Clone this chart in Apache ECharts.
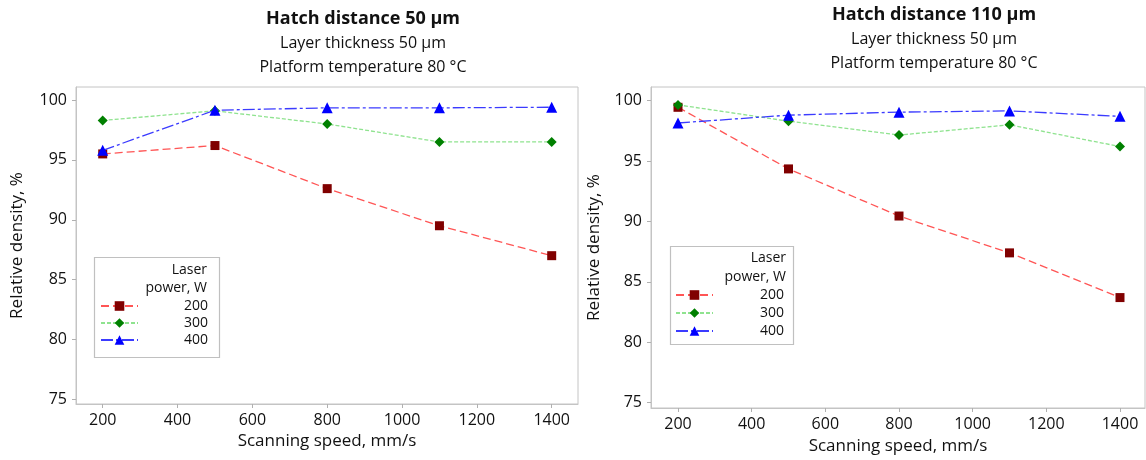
<!DOCTYPE html>
<html>
<head>
<meta charset="utf-8">
<title>Relative density vs scanning speed</title>
<script src="https://cdn.jsdelivr.net/npm/echarts@6/dist/echarts.min.js"></script>
<style>html,body{margin:0;padding:0;background:#fff;}</style>
</head>
<body>
<div id="main" style="width:1146px;height:460px;"></div>
<script>
// data
var speeds = [200, 500, 800, 1100, 1400];
var xTicks = [200, 400, 600, 800, 1000, 1200, 1400];
var yTicks = [75, 80, 85, 90, 95, 100];
var powers = ['200', '300', '400'];

// hatch distance 50 um
var h50_p200 = [95.5, 96.2, 92.6, 89.5, 87.0];
var h50_p300 = [98.3, 99.1, 98.0, 96.5, 96.5];
var h50_p400 = [95.8, 99.15, 99.35, 99.35, 99.4];

// hatch distance 110 um
var h110_p200 = [99.45, 94.35, 90.45, 87.4, 83.7];
var h110_p300 = [99.65, 98.3, 97.15, 98.0, 96.2];
var h110_p400 = [98.15, 98.8, 99.05, 99.15, 98.7];

var FONT = 'Open Sans';

function pairs(vals) {
    return speeds.map(function (s, i) { return [s, vals[i]]; });
}

var styles = {
    '200': {symbol: 'rect', size: 9, marker: '#800000', line: '#ff5555', dash: [8, 4]},
    '300': {symbol: 'diamond', size: 10, marker: '#008000', line: '#8fe38f', dash: [4, 2]},
    '400': {symbol: 'triangle', size: 11, marker: '#0000ff', line: '#3b3bff', dash: [12, 3, 3, 3]}
};

function makeSeries(name, vals, idx) {
    var st = styles[name];
    return {
        name: name,
        type: 'line',
        xAxisIndex: idx,
        yAxisIndex: idx,
        data: pairs(vals),
        symbol: st.symbol,
        symbolSize: st.size,
        showAllSymbol: true,
        itemStyle: {color: st.marker},
        lineStyle: {color: st.line, width: 1.3, type: st.dash},
        emphasis: {disabled: true},
        z: name === '400' ? 4 : (name === '300' ? 3 : 2)
    };
}

function xAx(idx, min, max, gap, nameGap) {
    return {
        type: 'value', gridIndex: idx, min: min, max: max,
        name: 'Scanning speed, mm/s', nameLocation: 'middle', nameGap: nameGap,
        nameTextStyle: {fontFamily: FONT, fontSize: 17, color: '#111'},
        axisLine: {show: true, lineStyle: {color: '#c4c4c4'}},
        axisTick: {show: true, length: 4, customValues: xTicks, lineStyle: {color: '#b0b0b0'}},
        axisLabel: {customValues: xTicks, margin: gap, fontFamily: FONT, fontSize: 16, color: '#111',
            formatter: function (v) { return String(v); }},
        splitLine: {show: false}
    };
}

function yAx(idx, min, max, nameGap) {
    return {
        type: 'value', gridIndex: idx, min: min, max: max,
        name: 'Relative density, %', nameLocation: 'middle', nameGap: nameGap,
        nameTextStyle: {fontFamily: FONT, fontSize: 17, color: '#111'},
        axisLine: {show: true, lineStyle: {color: '#c4c4c4'}},
        axisTick: {show: true, length: 4, customValues: yTicks, lineStyle: {color: '#b0b0b0'}},
        axisLabel: {customValues: yTicks, margin: 9, fontFamily: FONT, fontSize: 16, color: '#111'},
        splitLine: {show: false}
    };
}

function legendBlock(left, top, gap, textW) {
    return {
        orient: 'vertical', left: left, top: top,
        data: powers, itemWidth: 37, itemHeight: 12, itemGap: gap,
        selectedMode: false, padding: 0,
        formatter: '{r|{name}}',
        textStyle: {
            fontFamily: FONT, fontSize: 14, color: '#111', lineHeight: 14,
            rich: {r: {width: textW, align: 'right', lineHeight: 14, fontFamily: FONT, fontSize: 14, color: '#111'}}
        }
    };
}

function titleTexts(cx, y0, main) {
    var lines = [main, 'Layer thickness 50 µm', 'Platform temperature 80 °C'];
    return lines.map(function (t, i) {
        return {
            type: 'text', x: cx, y: y0 + i * 24,
            style: {
                text: t, textAlign: 'center', textVerticalAlign: 'middle',
                fontFamily: FONT, fontSize: i === 0 ? 18 : 16,
                fontWeight: i === 0 ? 'bold' : 'normal', fill: '#111'
            }
        };
    });
}

function legendFrame(x, y, w, h, tx, ty, dy) {
    return [
        {type: 'rect', shape: {x: x, y: y, width: w, height: h},
            style: {fill: 'none', stroke: '#c0c0c0', lineWidth: 1.2}},
        {type: 'text', x: tx, y: ty, style: {text: 'Laser', textAlign: 'right', textVerticalAlign: 'middle',
            fontFamily: FONT, fontSize: 14, fill: '#111'}},
        {type: 'text', x: tx, y: ty + dy, style: {text: 'power, W', textAlign: 'right', textVerticalAlign: 'middle',
            fontFamily: FONT, fontSize: 14, fill: '#111'}}
    ];
}

var chart = echarts.init(document.getElementById('main'), null, {renderer: 'canvas'});

var option = {
    backgroundColor: '#fff',
    animation: false,
    grid: [
        {left: 76, top: 87, width: 502, height: 317, show: true, borderColor: '#c4c4c4', borderWidth: 1, backgroundColor: 'transparent'},
        {left: 651, top: 87, width: 494, height: 322, show: true, borderColor: '#c4c4c4', borderWidth: 1, backgroundColor: 'transparent'}
    ],
    xAxis: [xAx(0, 128.6, 1470.3, 8, 29), xAx(1, 126.7, 1467.9, 8, 30)],
    yAxis: [yAx(0, 74.61, 101.09, 50), yAx(1, 74.56, 101.13, 48)],
    legend: [legendBlock(100, 299, 3, 65), legendBlock(675, 288, 4, 66)],
    graphic: [].concat(
        titleTexts(363, 19, 'Hatch distance 50 µm'),
        titleTexts(934, 15, 'Hatch distance 110 µm'),
        legendFrame(94.5, 257.5, 125, 100, 207, 270, 18),
        legendFrame(670.5, 246.5, 123, 98, 786, 258, 19)
    ),
    series: [
        makeSeries('200', h50_p200, 0),
        makeSeries('300', h50_p300, 0),
        makeSeries('400', h50_p400, 0),
        makeSeries('200', h110_p200, 1),
        makeSeries('300', h110_p300, 1),
        makeSeries('400', h110_p400, 1)
    ]
};

chart.setOption(option);
</script>
</body>
</html>
